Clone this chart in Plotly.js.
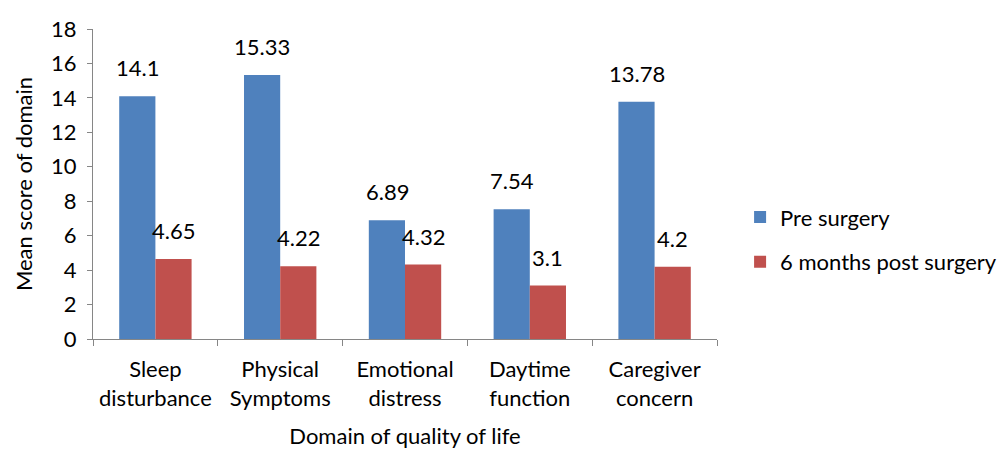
<!DOCTYPE html>
<html>
<head>
<meta charset="utf-8">
<script src="https://cdn.plot.ly/plotly-3.0.1.min.js"></script>
<style>
  html, body { margin: 0; padding: 0; background: #fff; }
  #chart { width: 1000px; height: 458px; }
</style>
</head>
<body>
<div id="chart"></div>
<script>
// domains and mean scores
const domains = ["Sleep<br>disturbance", "Physical<br>Symptoms", "Emotional<br>distress", "Daytime<br>function", "Caregiver<br>concern"];
const preSurgery = [14.1, 15.33, 6.89, 7.54, 13.78];
const postSurgery = [4.65, 4.22, 4.32, 3.1, 4.2];
const preLabels = ["14.1", "15.33", "6.89", "7.54", "13.78"];
const postLabels = ["4.65", "4.22", "4.32", "3.1", "4.2"];

const font = "Lato, 'Open Sans', sans-serif";
const fs = 22;

const pre = {
    x: domains,
    y: preSurgery,
    type: "bar",
    name: "Pre surgery",
    legendgroup: "a",
    marker: { color: "#4F81BD" },
    hoverinfo: "none"
};

const post = {
    x: domains,
    y: postSurgery,
    type: "bar",
    name: "6 months post surgery",
    legendgroup: "b",
    marker: { color: "#C0504D" },
    hoverinfo: "none"
};

// value labels sit a bit above each bar
const notes = [];
domains.forEach((d, i) => {
    notes.push({ x: d, y: preSurgery[i], text: preLabels[i], showarrow: false,
        xshift: -18, yshift: 13, yanchor: "bottom", font: { size: fs, color: "#000", family: font } });
    notes.push({ x: d, y: postSurgery[i], text: postLabels[i], showarrow: false,
        xshift: 18, yshift: 13, yanchor: "bottom", font: { size: fs, color: "#000", family: font } });
});

const layout = {
    width: 1000,
    height: 458,
    margin: { l: 93, r: 283, t: 29, b: 119, autoexpand: false },
    paper_bgcolor: "#fff",
    plot_bgcolor: "#fff",
    font: { family: font, size: fs, color: "#000" },
    barmode: "group",
    bargap: 0.42,
    bargroupgap: 0,
    showlegend: true,
    legend: {
        x: 1.037, y: 0.32, xanchor: "left", yanchor: "middle",
        font: { size: fs, family: font },
        itemwidth: 30, tracegroupgap: 13
    },
    xaxis: {
        showline: true, linecolor: "#868686", linewidth: 1,
        ticks: "outside", ticklen: 6, tickcolor: "#868686",
        tickson: "boundaries",
        ticklabelstandoff: 11,
        tickfont: { size: fs },
        title: { text: "Domain of quality of life", font: { size: fs }, standoff: 18 },
        automargin: false,
        fixedrange: true
    },
    yaxis: {
        range: [0, 18], dtick: 2,
        showgrid: false, zeroline: false,
        showline: true, linecolor: "#868686", linewidth: 1,
        ticks: "outside", ticklen: 5, tickcolor: "#868686",
        ticklabelstandoff: 6,
        tickfont: { size: fs },
        title: { text: "Mean score of domain", font: { size: fs }, standoff: 12 },
        automargin: false,
        fixedrange: true
    },
    annotations: notes
};

Plotly.newPlot("chart", [pre, post], layout, { displayModeBar: false, staticPlot: true });
</script>
</body>
</html>
